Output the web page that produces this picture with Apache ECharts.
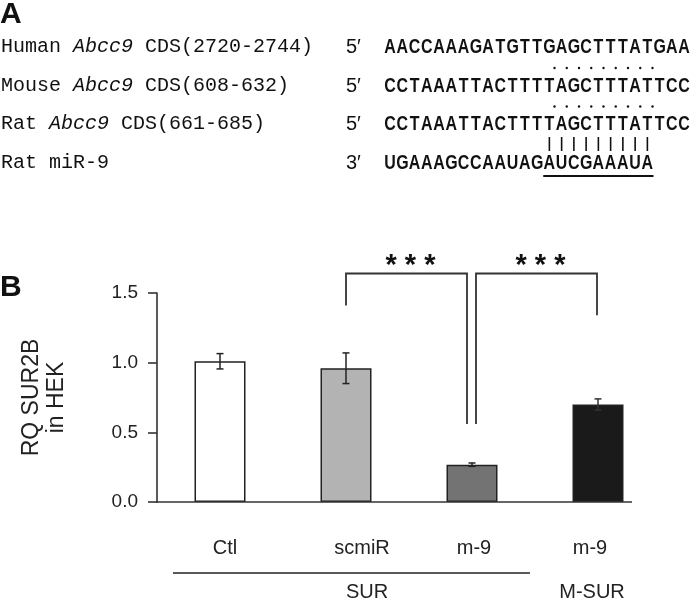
<!DOCTYPE html>
<html>
<head>
<meta charset="utf-8">
<script src="https://cdn.jsdelivr.net/npm/echarts@6/dist/echarts.min.js"></script>
<style>
html,body{margin:0;padding:0;background:#fff;}
#chart{width:700px;height:602px;}
</style>
</head>
<body>
<div id="chart"></div>
<script>
// ---------- data ----------
const categories = ['Ctl', 'scmiR', 'm-9', 'm-9'];
const means = [1.01, 0.96, 0.268, 0.70];
const sems = [0.055, 0.11, 0.012, 0.04];
const yTickMin = 0, yTickMax = 1.5, yTickStep = 0.5;
const yAxisName = 'RQ SUR2B\nin HEK';
const groupLabels = ['SUR', 'M-SUR'];
// comparisons: [fromCategory, toCategory, fromLegEnd, toLegEnd, bracketTop]
const comparisons = [
  [1, 2, 1.41, 0.56, 1.64],
  [2, 3, 0.56, 1.34, 1.64]
];
const compLabels = ['***', '***'];

// panel A
const seqNames = ['Human', 'Mouse', 'Rat', 'Rat'];
const seqGenes = ['Abcc9', 'Abcc9', 'Abcc9', ''];
const seqRegions = ['CDS(2720-2744)', 'CDS(608-632)', 'CDS(661-685)', 'miR-9'];
const seqEnds = ['5\u2032', '5\u2032', '5\u2032', '3\u2032'];
const sequences = [
  'AACCAAAGATGTTGAGCTTTATGAA',
  'CCTAAATTACTTTTAGCTTTATTCC',
  'CCTAAATTACTTTTAGCTTTATTCC',
  'UGAAAGCCAAUAGAUCGAAAUA'
];
const seedStart = 13, seedLen = 9;

// ---------- styles ----------
const barColors = ['#ffffff', '#b3b3b3', '#737373', '#1a1a1a'];
const ink = '#222';
const legOffsets = [[0, -5], [4, -1]];
const labelShift = [5, 16, 2, -8];
const sans = '"Liberation Sans", Arial, sans-serif';

const chart = echarts.init(document.getElementById('chart'));

// panel A graphics
const g = [];
g.push({type:'text', left:0, top:0, style:{text:'A', font:'bold 30px ' + sans, fill:'#111'}});
g.push({type:'text', left:0, top:273, style:{text:'B', font:'bold 30px ' + sans, fill:'#111'}});
const rowY = [47, 86, 124, 163];
const seqX0 = 384, pitch = 12.25;
const monoFont = '20px "Liberation Mono", "Courier New", monospace';
for (let r = 0; r < 4; r++) {
  const txt = seqGenes[r]
    ? `${seqNames[r]} {i|${seqGenes[r]}} ${seqRegions[r]}`
    : `${seqNames[r]} ${seqRegions[r]}`;
  g.push({type:'text', x:1, y:rowY[r], style:{text:txt, font:monoFont, fill:'#111', verticalAlign:'middle',
    rich:{i:{font:'italic 20px "Liberation Mono", "Courier New", monospace', fill:'#111'}}}});
  g.push({type:'text', x:346, y:rowY[r], style:{text:seqEnds[r], font:'20px ' + sans, fill:'#111', verticalAlign:'middle'}});
  const s = sequences[r];
  for (let i = 0; i < s.length; i++) {
    g.push({type:'text', x:seqX0 + (i + 0.5) * pitch, y:rowY[r], scaleX:0.76,
      style:{text:s[i], font:'bold 21px ' + sans, fill:'#111', align:'center', verticalAlign:'middle'}});
  }
}
// conservation dots and base-pair bars
for (let k = 0; k < seedLen; k++) {
  const cx = seqX0 + (seedStart + 1 + k) * pitch - 1;
  g.push({type:'circle', shape:{cx:cx, cy:(rowY[0]+rowY[1])/2 + 1.5, r:1.2}, style:{fill:'#111'}});
  g.push({type:'circle', shape:{cx:cx, cy:(rowY[1]+rowY[2])/2 + 1.5, r:1.2}, style:{fill:'#111'}});
  const bx = seqX0 + (seedStart + k + 0.5) * pitch;
  g.push({type:'line', shape:{x1:bx, y1:137, x2:bx, y2:151}, style:{stroke:'#111', lineWidth:1.6}});
}
g.push({type:'line', shape:{x1:seqX0 + seedStart*pitch, y1:176, x2:seqX0 + (seedStart+seedLen)*pitch, y2:176}, style:{stroke:'#111', lineWidth:2}});

// panel B extra graphics
g.push({type:'line', shape:{x1:156, y1:502, x2:632, y2:502}, style:{stroke:'#333', lineWidth:1.6}, z:10});
g.push({type:'line', shape:{x1:173, y1:573, x2:530, y2:573}, style:{stroke:'#222', lineWidth:1.5}});
g.push({type:'text', x:367, y:592, style:{text:groupLabels[0], font:'20px ' + sans, fill:'#222', align:'center', verticalAlign:'middle'}});
g.push({type:'text', x:592, y:592, style:{text:groupLabels[1], font:'20px ' + sans, fill:'#222', align:'center', verticalAlign:'middle'}});

const rich = {};
labelShift.forEach((d, i) => {
  rich['c' + i] = {fontSize:20, fontFamily:sans, color:'#222',
    padding: d >= 0 ? [0, 0, 0, 2*d] : [0, -2*d, 0, 0]};
});

const option = {
  animation: false,
  backgroundColor: '#fff',
  grid: {left:157, top:293, width:504, height:209},
  xAxis: {
    type:'category', data:categories,
    axisLine:{show:false}, axisTick:{show:false},
    axisLabel:{margin:36, formatter:(v, idx) => `{c${idx}|${v}}`, rich:rich}
  },
  yAxis: {
    type:'value', min:yTickMin, max:yTickMax, interval:yTickStep,
    name:yAxisName, nameLocation:'middle', nameGap:88, nameRotate:90,
    nameTextStyle:{fontSize:23, lineHeight:25, fontFamily:sans, color:'#222', align:'center'},
    axisLine:{show:true, lineStyle:{color:'#333', width:1.6}},
    axisTick:{show:true, inside:false, length:9, lineStyle:{color:'#333', width:1.6}},
    axisLabel:{margin:19, fontSize:19, fontFamily:sans, color:'#222',
      formatter:v => v.toFixed(1)},
    splitLine:{show:false}
  },
  graphic: g,
  series: [
    {
      type:'bar', barWidth:51,
      data: means.map((m, i) => ({value:m, itemStyle:{color:barColors[i], borderColor:ink, borderWidth:1.5}})),
      z:2
    },
    {
      type:'custom', z:3,
      data: means.map((m, i) => [i, m, sems[i]]),
      renderItem: (params, api) => {
        const i = api.value(0), m = api.value(1), e = api.value(2);
        const t = api.coord([i, m + e]), b = api.coord([i, m - e]);
        const hw = 3.5;
        const st = {stroke: i === 3 ? '#333' : ink, lineWidth:1.5};
        return {type:'group', children:[
          {type:'line', shape:{x1:t[0], y1:t[1], x2:b[0], y2:b[1]}, style:st},
          {type:'line', shape:{x1:t[0]-hw, y1:t[1], x2:t[0]+hw, y2:t[1]}, style:st},
          {type:'line', shape:{x1:b[0]-hw, y1:b[1], x2:b[0]+hw, y2:b[1]}, style:st}
        ]};
      }
    },
    {
      type:'custom', z:4, clip:false,
      data: comparisons,
      renderItem: (params, api) => {
        const k = params.dataIndex;
        const a = api.value(0), b = api.value(1);
        const p1 = api.coord([a, api.value(2)]), p2 = api.coord([a, api.value(4)]);
        const p3 = api.coord([b, api.value(4)]), p4 = api.coord([b, api.value(3)]);
        const o = legOffsets[k];
        const x1 = p1[0] + o[0], x2 = p3[0] + o[1];
        return {type:'group', children:[
          {type:'polyline', shape:{points:[[x1, p1[1]], [x1, p2[1]], [x2, p3[1]], [x2, p4[1]]]},
            style:{stroke:'#333', lineWidth:1.8, fill:null}},
          {type:'text', x:(x1 + x2)/2 + 4, y:p2[1] - 22,
            style:{text:compLabels[k].split('').join(' '), font:'bold 29px ' + sans, fill:'#111', align:'center', verticalAlign:'top'}}
        ]};
      }
    }
  ]
};
chart.setOption(option);
</script>
</body>
</html>
